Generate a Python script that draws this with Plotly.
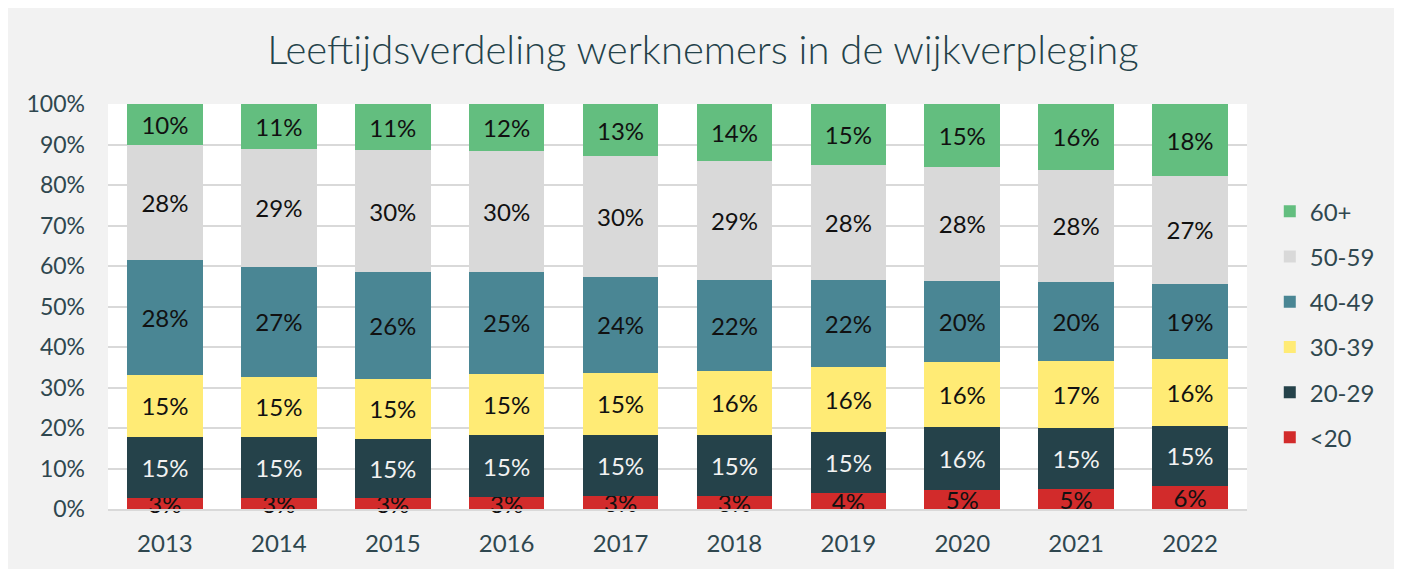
import plotly.graph_objects as go

years = ["2013", "2014", "2015", "2016", "2017", "2018", "2019", "2020", "2021", "2022"]
groups = ["<20", "20-29", "30-39", "40-49", "50-59", "60+"]

under20 = [2.7, 2.6, 2.6, 2.9, 3.1, 3.3, 3.9, 4.6, 4.9, 5.8]
age20_29 = [15.1, 15.1, 14.8, 15.4, 15.2, 15.1, 15.2, 15.6, 15.1, 14.8]
age30_39 = [15.4, 15.0, 14.8, 15.1, 15.4, 15.7, 15.9, 16.1, 16.6, 16.4]
age40_49 = [28.3, 27.2, 26.4, 25.1, 23.6, 22.4, 21.6, 20.1, 19.6, 18.6]
age50_59 = [28.4, 29.1, 30.0, 29.9, 29.8, 29.4, 28.3, 28.2, 27.6, 26.7]
age60plus = [10.1, 11.0, 11.4, 11.6, 12.9, 14.1, 15.1, 15.4, 16.2, 17.7]

series = [under20, age20_29, age30_39, age40_49, age50_59, age60plus]
colors = ["#D22B2B", "#25424A", "#FFEB75", "#4A8694", "#D9D9D9", "#63BE7F"]
text_colors = ["#111111", "#F2F2F2", "#111111", "#111111", "#111111", "#111111"]

ytick_vals = [0, 10, 20, 30, 40, 50, 60, 70, 80, 90, 100]
ytick_labels = ["0%", "10%", "20%", "30%", "40%", "50%", "60%", "70%", "80%", "90%", "100%"]

FONT = "Lato"
AXIS_COLOR = "#2F474F"

fig = go.Figure()
n = len(groups)
for i, (name, vals, col, tcol) in enumerate(zip(groups, series, colors, text_colors)):
    fig.add_trace(go.Bar(
        x=years, y=vals, name=name,
        marker=dict(color=col, line=dict(width=0)),
        texttemplate="%{y:.0f}%",
        textposition="inside",
        insidetextanchor="middle",
        textangle=0,
        textfont=dict(family=FONT, size=24, color=tcol),
        cliponaxis=False,
        legendgroup=name,
        legendrank=(n - i) * 100,
    ))

fig.update_layout(
    barmode="stack",
    bargap=0.336,
    width=1390, height=561,
    margin=dict(l=100, r=151, t=96, b=56),
    paper_bgcolor="#F2F2F2",
    plot_bgcolor="#FFFFFF",
    font=dict(family=FONT, color=AXIS_COLOR, size=22),
    uniformtext=dict(minsize=24, mode="show"),
    title=dict(
        text="Leeftijdsverdeling werknemers in de wijkverpleging",
        x=0.5, xref="container", xanchor="center",
        y=0.925, yanchor="middle",
        font=dict(family=FONT, size=40, color="#24424A", weight=300),
    ),
    legend=dict(
        traceorder="grouped",
        x=1.020, xanchor="left",
        y=0.455, yanchor="middle",
        bgcolor="rgba(0,0,0,0)",
        font=dict(family=FONT, size=24, color=AXIS_COLOR),
        tracegroupgap=11,
        itemwidth=30,
    ),
    xaxis=dict(
        showgrid=False,
        showline=True, linecolor="#D9D9D9", linewidth=2,
        ticks="", ticklabelstandoff=12,
        tickfont=dict(family=FONT, size=24, color=AXIS_COLOR),
    ),
    yaxis=dict(
        range=[0, 100.05],
        tickvals=ytick_vals,
        ticktext=ytick_labels,
        showgrid=True, gridcolor="#D9D9D9", gridwidth=2,
        zeroline=False,
        ticks="", ticklabelstandoff=22,
        tickfont=dict(family=FONT, size=23, color=AXIS_COLOR),
    ),
)

fig.write_html("out.html")
